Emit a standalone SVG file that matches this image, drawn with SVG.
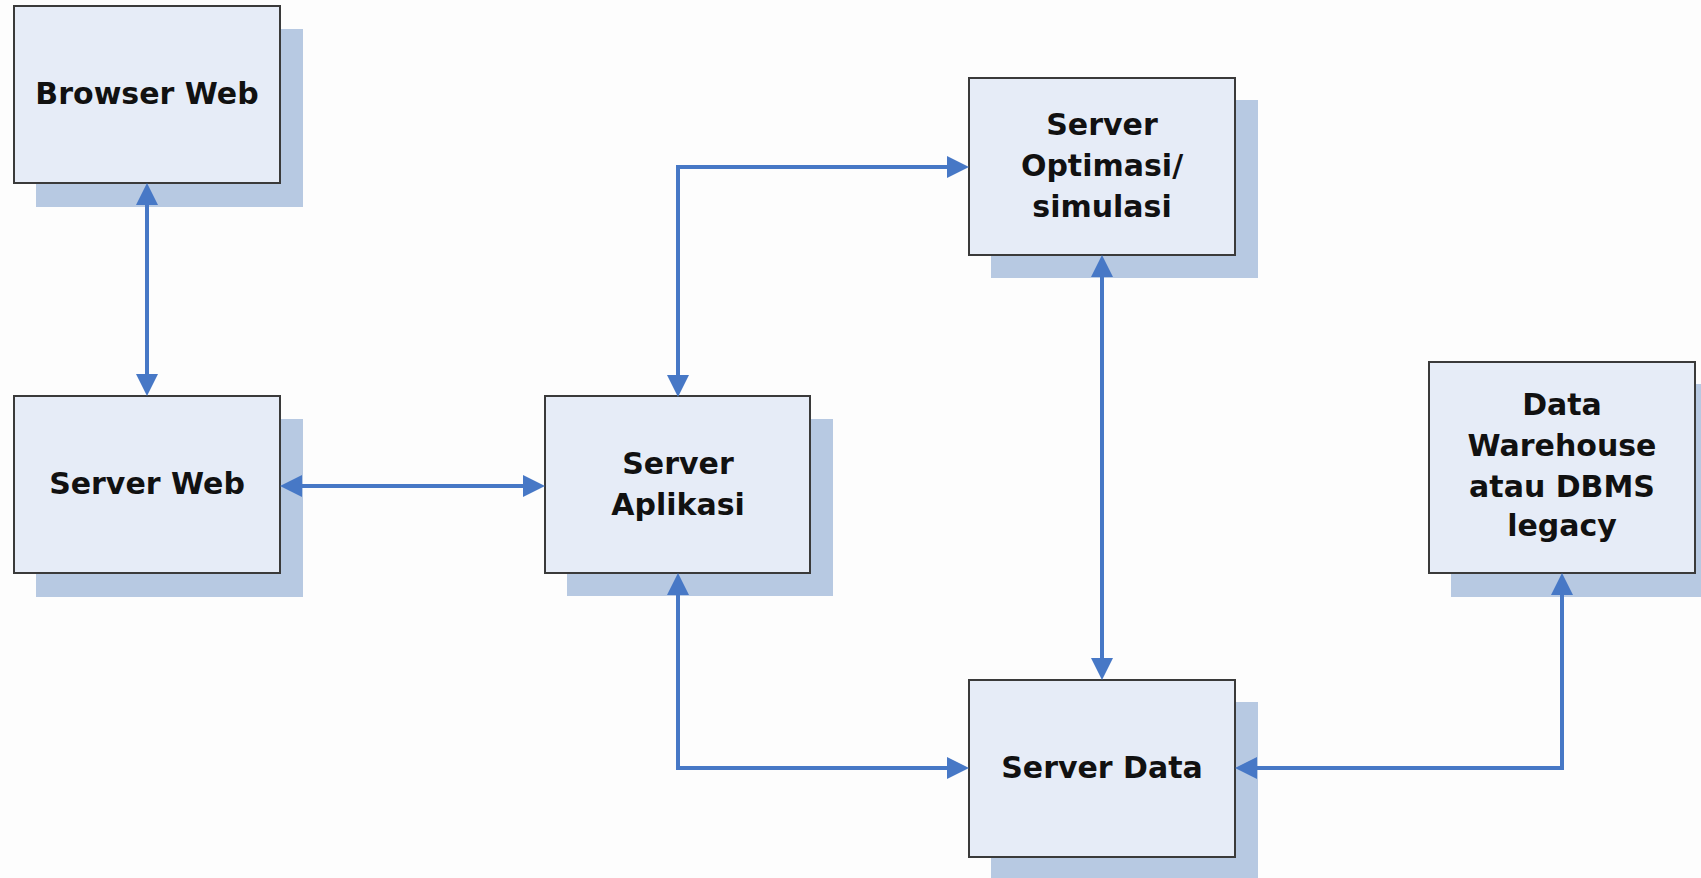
<svg xmlns="http://www.w3.org/2000/svg" width="1701" height="878" viewBox="0 0 1701 878">
  <style>
    .shadow { fill: #b7c9e2; }
    .box { fill: #e6ecf7; stroke: #3a3a3a; stroke-width: 2; }
    .label { font-family: "DejaVu Sans", "Liberation Sans", sans-serif; font-weight: bold; font-size: 30px; fill: #111; text-anchor: middle; }
    .link { fill: none; stroke: #4778c6; stroke-width: 4; }
  </style>
  <defs>
    <marker id="arrow" markerUnits="userSpaceOnUse" markerWidth="22" markerHeight="22" viewBox="0 0 22 22" refX="12" refY="11" orient="auto-start-reverse">
      <path d="M0,0 L22,11 L0,22 Z" fill="#4778c6"/>
    </marker>
  </defs>
  <rect x="0" y="0" width="1701" height="878" fill="#fdfdfd"/>

  <g id="browser-web">
    <rect class="shadow" x="36" y="29" width="267" height="178"/>
    <rect class="box" x="14" y="6" width="266" height="177"/>
    <text class="label" x="147" y="104">Browser Web</text>
  </g>

  <g id="server-web">
    <rect class="shadow" x="36" y="419" width="267" height="178"/>
    <rect class="box" x="14" y="396" width="266" height="177"/>
    <text class="label" x="147" y="494">Server Web</text>
  </g>

  <g id="server-aplikasi">
    <rect class="shadow" x="567" y="419" width="266" height="177"/>
    <rect class="box" x="545" y="396" width="265" height="177"/>
    <text class="label" x="678" y="474">Server</text>
    <text class="label" x="678" y="515">Aplikasi</text>
  </g>

  <g id="server-optimasi">
    <rect class="shadow" x="991" y="100" width="267" height="178"/>
    <rect class="box" x="969" y="78" width="266" height="177"/>
    <text class="label" x="1102" y="135">Server</text>
    <text class="label" x="1102" y="176">Optimasi/</text>
    <text class="label" x="1102" y="217">simulasi</text>
  </g>

  <g id="data-warehouse">
    <rect class="shadow" x="1451" y="384" width="267" height="213"/>
    <rect class="box" x="1429" y="362" width="266" height="211"/>
    <text class="label" x="1562" y="415">Data</text>
    <text class="label" x="1562" y="456">Warehouse</text>
    <text class="label" x="1562" y="497">atau DBMS</text>
    <text class="label" x="1562" y="536">legacy</text>
  </g>

  <g id="server-data">
    <rect class="shadow" x="991" y="702" width="267" height="178"/>
    <rect class="box" x="969" y="680" width="266" height="177"/>
    <text class="label" x="1102" y="778">Server Data</text>
  </g>

  <g id="connectors">
    <path class="link" d="M147,193 L147,386" marker-start="url(#arrow)" marker-end="url(#arrow)"/>
    <path class="link" d="M290,486 L535,486" marker-start="url(#arrow)" marker-end="url(#arrow)"/>
    <path class="link" d="M678,387 L678,167 L959,167" marker-start="url(#arrow)" marker-end="url(#arrow)"/>
    <path class="link" d="M678,583 L678,768 L959,768" marker-start="url(#arrow)" marker-end="url(#arrow)"/>
    <path class="link" d="M1102,265 L1102,670" marker-start="url(#arrow)" marker-end="url(#arrow)"/>
    <path class="link" d="M1562,583 L1562,768 L1245,768" marker-start="url(#arrow)" marker-end="url(#arrow)"/>
  </g>
</svg>
